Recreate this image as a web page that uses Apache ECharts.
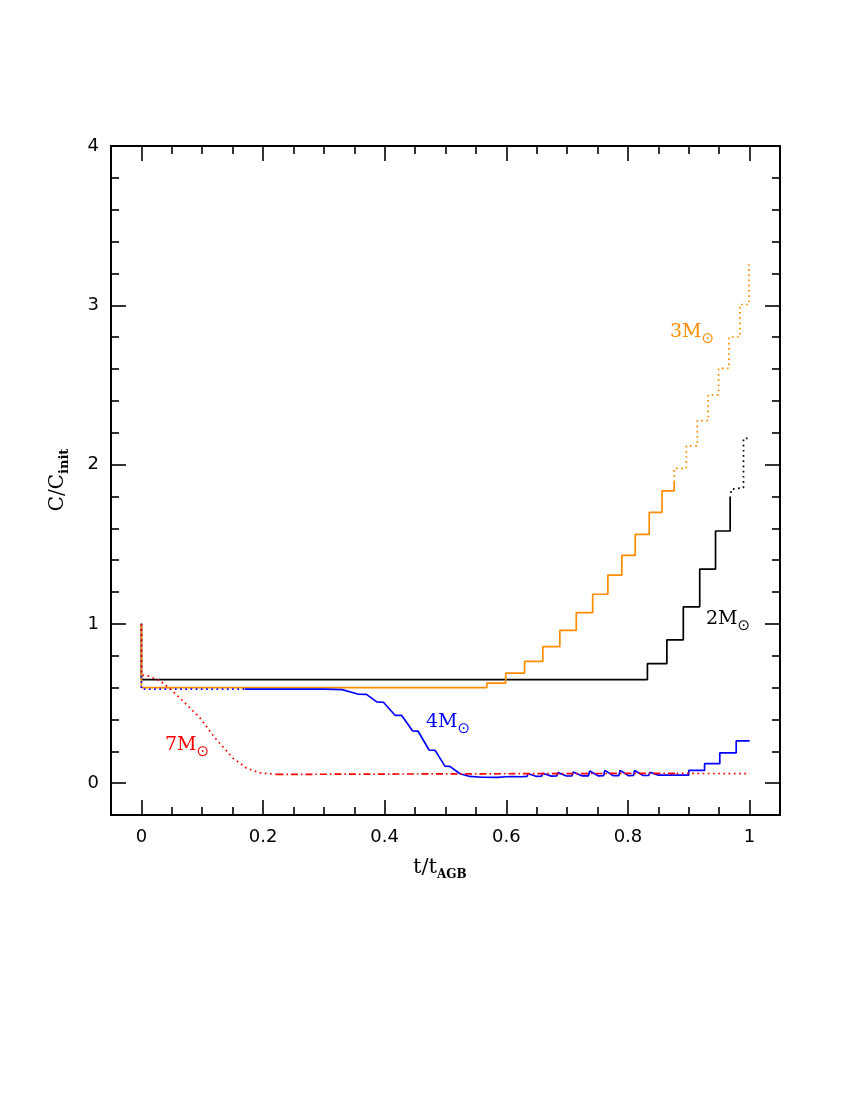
<!DOCTYPE html>
<html><head><meta charset="utf-8">
<script src="https://cdn.jsdelivr.net/npm/echarts@6/dist/echarts.min.js"></script>
<style>html,body{margin:0;padding:0;background:#fff}#c{width:850px;height:1100px}</style>
</head><body><div id="c"></div>
<script>
// ---- data: [t/t_AGB, C/C_init] ----
const blackSolid = [[0,1.0],[0,0.65],[0.832,0.75],[0.864,0.90],[0.891,1.107],[0.918,1.344],[0.944,1.583],[0.968,1.79]];
const blackDotted = [[0.968,1.79],[0.970,1.845],[0.990,1.855],[0.990,2.165],[1.0,2.165]];
const orangeSolid = [[0,1.0],[0,0.60],[0.568,0.628],[0.599,0.691],[0.630,0.764],[0.660,0.857],[0.688,0.959],[0.715,1.071],[0.742,1.186],[0.767,1.306],[0.790,1.43],[0.812,1.562],[0.835,1.70],[0.856,1.835],[0.876,1.89]];
const orangeDotted = [[0.876,1.89],[0.876,1.976],[0.896,2.117],[0.914,2.276],[0.932,2.438],[0.949,2.604],[0.966,2.801],[0.984,3.005],[0.999,3.257]];
const blueDotted = [[0,1.0],[0,0.59],[0.17,0.59]];
const blueSolid = [[0.17,0.59],[0.30,0.59],[0.33,0.587],[0.357,0.558],[0.37,0.557],[0.387,0.51],[0.398,0.508],[0.417,0.426],[0.428,0.425],[0.446,0.328],[0.455,0.326],[0.473,0.208],[0.483,0.206],[0.499,0.107],[0.507,0.105],[0.524,0.059],[0.54,0.042],[0.56,0.037],[0.585,0.036],[0.60,0.040],
 [0.609,0.041],[0.611,0.050],[0.625,0.040],
 [0.634,0.042],[0.636,0.059],[0.650,0.042],
 [0.658,0.044],[0.660,0.062],[0.674,0.044],
 [0.683,0.045],[0.685,0.066],[0.699,0.045],
 [0.708,0.046],[0.710,0.070],[0.724,0.046],
 [0.735,0.046],[0.737,0.076],[0.751,0.046],
 [0.760,0.047],[0.762,0.080],[0.776,0.047],
 [0.785,0.047],[0.787,0.080],[0.801,0.047],
 [0.809,0.048],[0.811,0.080],[0.825,0.048],
 [0.834,0.048],[0.836,0.068],[0.850,0.050],
 [0.900,0.050],[0.900,0.080],[0.926,0.080],[0.926,0.122],[0.951,0.122],[0.951,0.19],[0.978,0.19],[0.978,0.265],[1.0,0.265]];
const redDotted = [[0,1.0],[0,0.68],[0.012,0.672],[0.03,0.643],[0.046,0.597],[0.068,0.517],[0.096,0.411],[0.123,0.275],[0.15,0.159],[0.172,0.096],[0.194,0.065],[0.222,0.055]];
const redDashDot = [[0.222,0.055],[0.4,0.057],[0.6,0.059],[0.8,0.061],[0.88,0.061]];
const redDottedEnd = [[0.88,0.061],[1.0,0.060]];

const labels = [
  {mass:'3', color:'#ff8c00', x:670, y:332},
  {mass:'2', color:'#000000', x:706, y:619},
  {mass:'4', color:'#0000ff', x:426, y:722},
  {mass:'7', color:'#ff0000', x:165, y:745}
];

const serif = 'DejaVu Serif';
const sans = 'DejaVu Sans';

function axis(kind, pos, showLabel){
  const isX = kind === 'x';
  return {
    type:'value', position:pos,
    min: isX ? -0.05 : -0.2, max: isX ? 1.05 : 4, splitNumber:5,
    axisLine:{show:true, onZero:false, lineStyle:{color:'#000', width:2}},
    axisTick:{show:true, inside:true, length:15, lineStyle:{color:'#000', width:1.6}},
    minorTick:{show:true, splitNumber: isX ? 4 : 5, length:8, lineStyle:{color:'#000', width:1.6}},
    splitLine:{show:false},
    axisLabel:{show:showLabel, color:'#000', fontFamily:sans, fontSize:18, margin: isX ? 13 : 12,
      formatter: function(v){
        const step = isX ? 0.2 : 1;
        const r = v/step;
        if (Math.abs(r-Math.round(r))>1e-6) return '';
        return String(parseFloat(v.toFixed(2)));
      }}
  };
}

function line(data, color, type, step){
  return {type:'line', data:data, showSymbol:false, symbol:'none', step: step || false,
    lineStyle:{color:color, width:1.7, type:type}, itemStyle:{color:color}, silent:true, animation:false,
    clip:true};
}

const dotted = [1.7,3.5];
const rich = {
  m:{fontFamily:serif, fontSize:19, lineHeight:30},
  s:{fontFamily:sans, fontSize:15, verticalAlign:'bottom', lineHeight:14}
};

const graphic = labels.map(l => ({
  type:'text', x:l.x, y:l.y, silent:true,
  style:{text:'{m|'+l.mass+'M}{s|\u2299}', fill:l.color, verticalAlign:'middle', align:'left',
    rich:{m:Object.assign({}, rich.m, {fill:l.color}), s:Object.assign({}, rich.s, {fill:l.color})}}
}));
// axis names
graphic.push({type:'text', x:413, y:868, silent:true,
  style:{text:'{m|t/t}{s|AGB}', fill:'#000', verticalAlign:'middle', align:'left',
    rich:{m:{fontFamily:serif, fontSize:21, lineHeight:26, fill:'#000'}, s:{fontFamily:serif, fontSize:12, fontWeight:'bold', verticalAlign:'bottom', lineHeight:14, fill:'#000'}}}});
graphic.push({type:'text', x:58, y:480, rotation:Math.PI/2, silent:true,
  style:{text:'{m|C/C}{s|init}', fill:'#000', verticalAlign:'middle', align:'center',
    rich:{m:{fontFamily:serif, fontSize:20, lineHeight:26, fill:'#000'}, s:{fontFamily:serif, fontSize:13, fontWeight:'bold', verticalAlign:'bottom', lineHeight:14, fill:'#000'}}}});

const chart = echarts.init(document.getElementById('c'), null, {renderer:'canvas'});
chart.setOption({
  animation:false,
  backgroundColor:'#fff',
  grid:{left:111, top:146, width:669, height:669, containLabel:false, outerBoundsMode:'none'},
  xAxis:[axis('x','bottom',true), axis('x','top',false)],
  yAxis:[axis('y','left',true), axis('y','right',false)],
  series:[
    line(blackSolid,'#000000','solid','end'),
    line(blackDotted,'#000000',dotted),
    line(orangeSolid,'#ff8c00','solid','end'),
    line(orangeDotted,'#ff8c00',dotted,'end'),
    line(blueDotted,'#0000ff',dotted),
    line(blueSolid,'#0000ff','solid'),
    line(redDotted,'#ff0000',dotted),
    line(redDashDot,'#ff0000',[7,3,1.5,3]),
    line(redDottedEnd,'#ff0000',dotted)
  ],
  graphic:graphic
});
</script></body></html>
